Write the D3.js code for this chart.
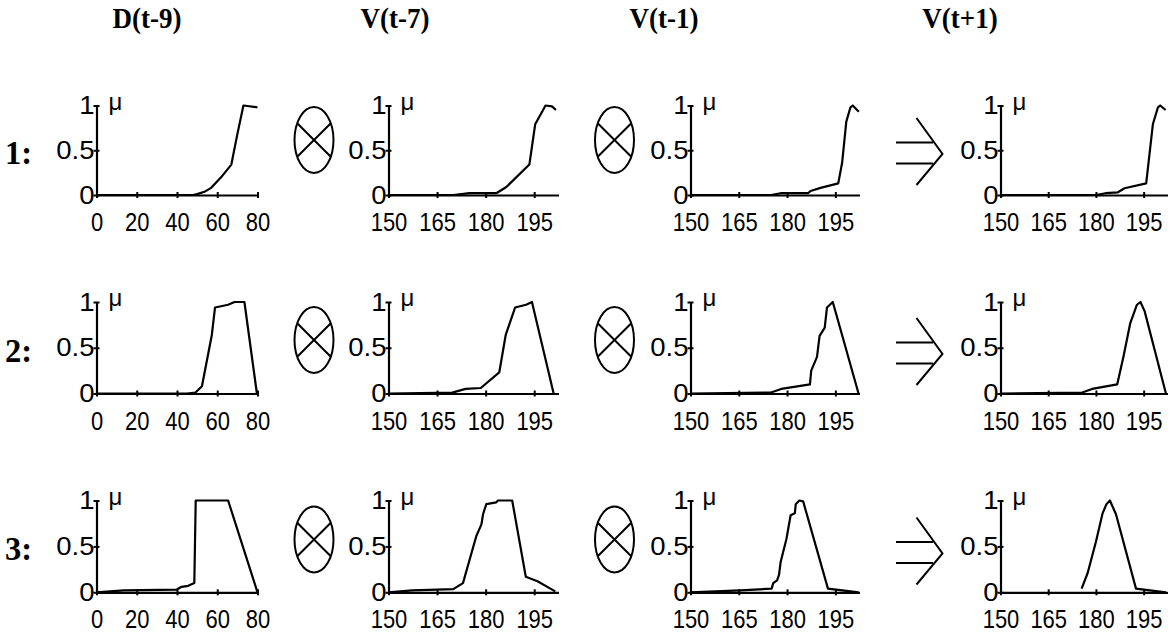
<!DOCTYPE html>
<html><head><meta charset="utf-8">
<script src="https://cdn.jsdelivr.net/npm/d3@7/dist/d3.min.js"></script>
<style>body{margin:0;background:#fff}svg{display:block}</style>
</head><body>
<svg id="c" width="1176" height="637"></svg>
<script>
// ---- data ----
const columnTitles = ["D(t-9)", "V(t-7)", "V(t-1)", "V(t+1)"];
const rowLabels = ["1:", "2:", "3:"];
const yTicks = [0, 0.5, 1];
const yTickLabels = ["0", "0.5", "1"];
const dTicks = [0, 20, 40, 60, 80];
const vTicks = [150, 165, 180, 195];
const dDomain = [0, 80];
const vDomain = [150, 202.5];

const r1D = [[0,0],[48,0],[50,0.01],[54,0.04],[57,0.08],[62,0.2],[67,0.34],[70,0.68],[73,1.0],[80,0.98]];
const r1V7 = [[150,0],[170,0],[175,0.02],[183.3,0.02],[186.4,0.09],[193.5,0.34],[195.3,0.79],[198.5,1.0],[200.5,0.99],[201.7,0.95]];
const r1V1 = [[150,0],[175,0],[178,0.02],[186.5,0.02],[187.3,0.045],[190.4,0.08],[195.9,0.13],[197.1,0.36],[198.4,0.82],[199.7,0.98],[200.4,1.0],[202.3,0.93]];
const r1Out = [[150,0],[180,0],[183,0.02],[186.9,0.03],[189,0.075],[195.8,0.13],[197.9,0.79],[199.5,0.98],[200.2,1.0],[201.9,0.95]];

const r2D = [[0,0],[45,0],[49.2,0.01],[52.4,0.08],[57.3,0.64],[58.9,0.94],[65.4,0.97],[68.6,1.0],[73.5,1.0],[79.7,0]];
const r2V7 = [[150,0],[169.7,0.01],[173.8,0.05],[178.5,0.06],[184.2,0.23],[186.2,0.64],[189.1,0.94],[192.5,0.97],[194.3,1.0],[201,0]];
const r2V1 = [[150,0],[175,0.01],[178.2,0.05],[187.1,0.10],[187.5,0.25],[189.3,0.40],[190.1,0.63],[191.7,0.72],[192.4,0.94],[194.2,1.0],[202.2,0]];
const r2Out = [[150,0],[175.7,0.01],[178.8,0.05],[186.7,0.10],[188.7,0.41],[190.8,0.77],[192.9,0.97],[194,1.0],[195.3,0.9],[202,0]];

const r3D = [[0,0],[13.6,0.02],[39.9,0.03],[42.3,0.06],[45.6,0.07],[48.6,0.10],[49.3,1.0],[65.4,1.0],[80,0]];
const r3V7 = [[150,0],[157.3,0.02],[170,0.035],[173,0.10],[177.1,0.61],[178.7,0.74],[179.2,0.85],[180.2,0.96],[183.3,0.98],[183.8,1.0],[188.2,1.0],[192.4,0.17],[196,0.12],[201.5,0.01]];
const r3V1 = [[150,0],[165.4,0.02],[175.2,0.04],[175.7,0.10],[176.9,0.13],[177.5,0.19],[178,0.33],[179.8,0.58],[181.1,0.84],[182.4,0.86],[182.7,0.96],[183.8,1.0],[185,0.99],[192.7,0.04],[202.2,0]];
const r3Out = [[175.5,0.04],[177.4,0.21],[180,0.55],[182.1,0.86],[183.3,0.96],[184.4,1.0],[186.3,0.85],[192.6,0.04],[202,0]];

const panelData = [
  [r1D, r1V7, r1V1, r1Out],
  [r2D, r2V7, r2V1, r2Out],
  [r3D, r3V7, r3V1, r3Out]
];

// ---- layout ----
const colX0 = [96.5, 388.5, 690.5, 1000.5];
const colW = [161, 170, 169, 167];
const rowTop = [105.5, 302, 500.5];
const rowBot = [195, 393.5, 592.3];
const titleX = [147, 395, 664, 960];
const opY = [140, 340, 539.5];
const ellipseX = [314, 614.5];

const svg = d3.select("#c");
const sans = "'Liberation Sans', Arial, sans-serif";
const serif = "'Liberation Serif', 'Times New Roman', serif";

// titles
svg.selectAll("text.title").data(columnTitles).join("text")
  .attr("class","title")
  .attr("transform",(d,i)=>`translate(${titleX[i]},28) scale(1,1.1)`)
  .attr("text-anchor","middle")
  .attr("font-family",serif).attr("font-weight","bold").attr("font-size",27)
  .text(d=>d);

// row labels
rowLabels.forEach((lab,r)=>{
  svg.append("text").attr("transform",`translate(5,${(rowTop[r]+rowBot[r])/2+14}) scale(1.05,1.1)`)
    .attr("font-family",serif).attr("font-weight","bold").attr("font-size",31)
    .text(lab);
});

const line = d3.line().curve(d3.curveLinear);

for (let r=0;r<3;r++){
  for (let c=0;c<4;c++){
    const x = d3.scaleLinear().domain(c===0?dDomain:vDomain).range([colX0[c], colX0[c]+colW[c]]);
    const y = d3.scaleLinear().domain([0,1]).range([rowBot[r], rowTop[r]]);
    const g = svg.append("g");
    // x axis
    const xa = g.append("g").attr("transform",`translate(0,${rowBot[r]})`)
      .call(d3.axisBottom(x).tickValues(c===0?dTicks:vTicks).tickSizeOuter(0).tickSizeInner(3));
    xa.select(".domain").attr("stroke","#000").attr("stroke-width",2.2);
    xa.selectAll(".tick line").attr("y1",-3).attr("y2",3).attr("stroke-width",2);
    xa.selectAll(".tick text").attr("y",null).attr("dy",null)
      .attr("transform","translate(0,36) scale(1,1.2)")
      .attr("font-family",sans).attr("font-size",22).attr("fill","#000");
    // y axis
    const ya = g.append("g").attr("transform",`translate(${colX0[c]},0)`)
      .call(d3.axisLeft(y).tickValues(yTicks).tickFormat((d,i)=>yTickLabels[i]).tickSizeOuter(0).tickSizeInner(3));
    ya.select(".domain").attr("stroke","#000").attr("stroke-width",2.2);
    ya.selectAll(".tick line").attr("x1",-3).attr("x2",3).attr("stroke-width",2);
    ya.selectAll(".tick text").attr("x",null).attr("dy",null)
      .attr("transform","translate(-2,8) scale(1.1,1.05)")
      .attr("font-family",sans).attr("font-size",25).attr("fill","#000");
    // mu
    g.append("text").attr("x",colX0[c]+12).attr("y",rowTop[r]+4)
      .attr("font-family",sans).attr("font-size",24).text("\u03BC");
    // curve
    g.append("path").datum(panelData[r][c])
      .attr("d", line.x(d=>x(d[0])).y(d=>y(d[1])))
      .attr("fill","none").attr("stroke","#000").attr("stroke-width",2.2).attr("stroke-linejoin","round");
  }
  // operators
  ellipseX.forEach(ex=>{
    const cy = opY[r], rx=19.5, ry=33, t = rx*ry/Math.sqrt(rx*rx+ry*ry);
    const og = svg.append("g").attr("stroke","#000").attr("stroke-width",2).attr("fill","none");
    og.append("ellipse").attr("cx",ex).attr("cy",cy).attr("rx",rx).attr("ry",ry);
    og.append("line").attr("x1",ex-t).attr("y1",cy-t).attr("x2",ex+t).attr("y2",cy+t);
    og.append("line").attr("x1",ex+t).attr("y1",cy-t).attr("x2",ex-t).attr("y2",cy+t);
  });
  const ay = opY[r]+13;
  const ag = svg.append("g").attr("stroke","#000").attr("stroke-width",2).attr("fill","none");
  ag.append("line").attr("x1",896).attr("x2",933).attr("y1",ay-10.5).attr("y2",ay-10.5);
  ag.append("line").attr("x1",896).attr("x2",933).attr("y1",ay+10.5).attr("y2",ay+10.5);
  ag.append("polyline").attr("points",`916.5,${ay-35} 942.5,${ay+1} 916.5,${ay+32}`);
}
</script>
</body></html>
